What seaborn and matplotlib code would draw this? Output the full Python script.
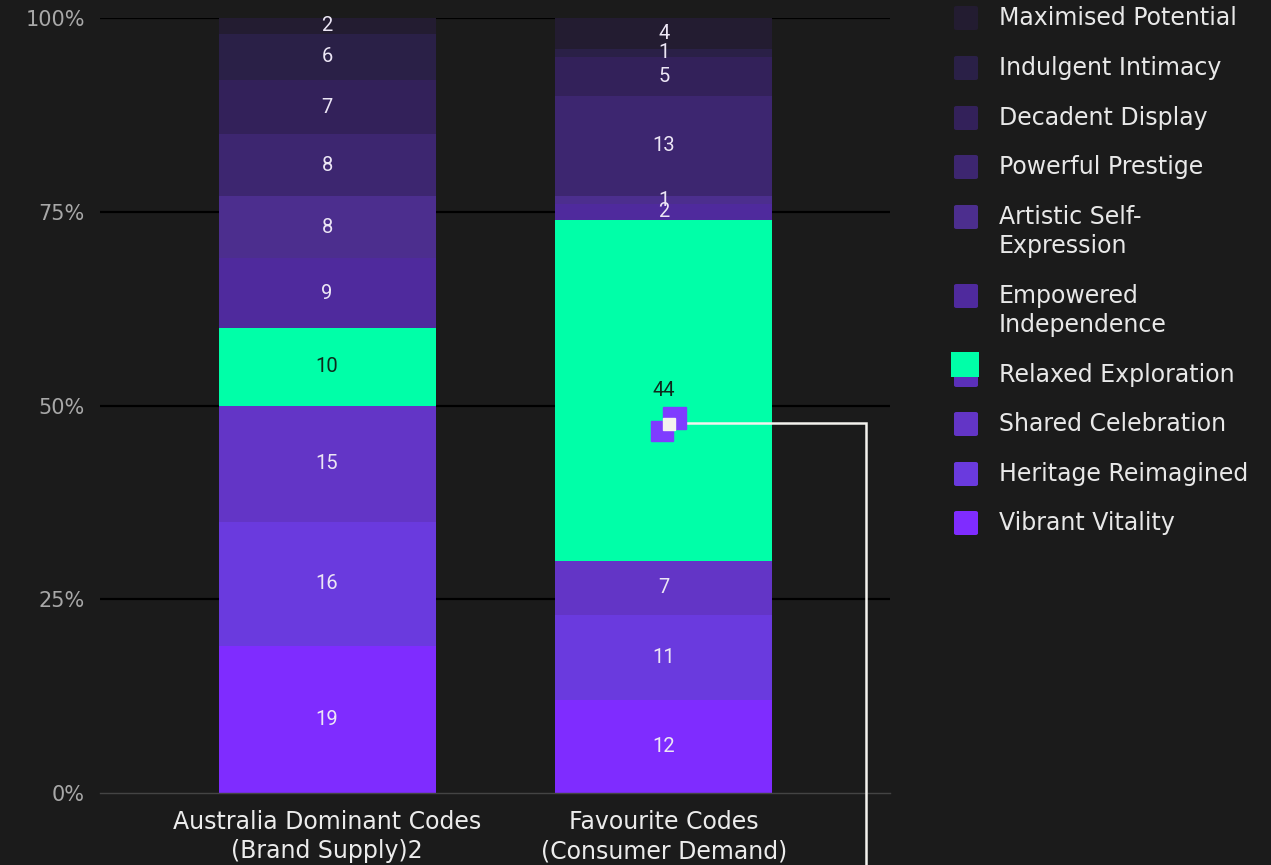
import matplotlib
matplotlib.use("Agg")
import matplotlib.pyplot as plt
import seaborn as sns
import numpy as np
import pandas as pd
from matplotlib.patches import Rectangle, FancyBboxPatch

# ---------------- data ----------------
categories = ["Australia Dominant Codes\n(Brand Supply)2", "Favourite Codes\n(Consumer Demand)"]
# stacking order: bottom -> top
series_names = [
    "Vibrant Vitality",
    "Heritage Reimagined",
    "Shared Celebration",
    "Relaxed Exploration",
    "Empowered Independence",
    "Artistic Self-Expression",
    "Powerful Prestige",
    "Decadent Display",
    "Indulgent Intimacy",
    "Maximised Potential",
]
supply_values = [19, 16, 15, 10, 9, 8, 8, 7, 6, 2]
demand_values = [12, 11, 7, 44, 2, 1, 13, 5, 1, 4]
series_colors = [
    "#7f2cff", "#6a3ade", "#6335c6", "#00ffa8", "#4f2a9d",
    "#4c2e8e", "#3d2670", "#33215a", "#2a2047", "#231c31",
]
legend_labels = [
    "Vibrant Vitality", "Heritage Reimagined", "Shared Celebration",
    "Relaxed Exploration", "Empowered\nIndependence", "Artistic Self-\nExpression",
    "Powerful Prestige", "Decadent Display", "Indulgent Intimacy", "Maximised Potential",
]
y_ticks = [0, 25, 50, 75, 100]
y_ticklabels = ["0%", "25%", "50%", "75%", "100%"]

# ---------------- figure ----------------
W, H = 1271, 865
BG = "#1b1b1b"
sns.set_theme(style="dark")
plt.rcParams["font.family"] = ["DejaVu Sans"]

fig = plt.figure(figsize=(W / 100, H / 100), dpi=100, facecolor=BG)
ax = fig.add_axes([100 / W, 1 - 793 / H, 790 / W, 775 / H])
ax.set_facecolor(BG)
ax.set_axisbelow(True)

df = pd.DataFrame({
    "category": np.repeat(categories, len(series_names)),
    "series": series_names * len(categories),
    "value": supply_values + demand_values,
})

bottoms = np.zeros(len(categories))
for name, color in zip(series_names, series_colors):
    sub = df[df["series"] == name]
    vals = sub["value"].to_numpy(dtype=float)
    sns.barplot(x=sub["category"], y=vals, bottom=bottoms, color=color,
                width=0.644, ax=ax, order=categories, errorbar=None,
                saturation=1, linewidth=0)
    for i, (v, b) in enumerate(zip(vals, bottoms)):
        txtcol = "#0e2a1c" if name == "Relaxed Exploration" else "#ece6f5"
        ax.text(i, b + v / 2, f"{int(v)}", ha="center", va="center",
                fontsize=14.5, color=txtcol, family=["Roboto", "DejaVu Sans"])
    bottoms = bottoms + vals

ax.set_xlim(-0.674, 1.671)
ax.set_ylim(0, 100)
ax.set_yticks(y_ticks)
ax.set_yticklabels(y_ticklabels)
ax.set_xlabel("")
ax.set_ylabel("")
ax.tick_params(axis="y", colors="#a8a8a8", labelsize=15, length=0, pad=11)
ax.tick_params(axis="x", colors="#ececec", labelsize=17, length=0, pad=12)
for lab in ax.get_xticklabels():
    lab.set_multialignment("center")
    lab.set_linespacing(1.3)

ax.grid(False)
for yv in y_ticks[1:]:
    ax.axhline(yv, color="#000000", lw=1.6, zorder=0.5)
for s in ["top", "right", "left"]:
    ax.spines[s].set_visible(False)
ax.spines["bottom"].set_color("#444444")
ax.spines["bottom"].set_linewidth(1.0)

# tooltip-like marker and connector line
ax.add_patch(Rectangle((0.963, 45.4), 0.063, 2.6, color="#7f3cff", zorder=5, clip_on=False))
ax.add_patch(Rectangle((0.996, 47.0), 0.068, 2.8, color="#7f3cff", zorder=5, clip_on=False))
ax.add_patch(Rectangle((0.996, 46.8), 0.036, 1.55, color="#f4f2ee", zorder=6, clip_on=False))
ax.plot([1.064, 1.60, 1.60], [47.7, 47.7, -12], color="#f4f2ee", lw=1.8,
        zorder=4, clip_on=False, solid_joinstyle="miter")

# ---------------- legend (manual) ----------------
def fx(px):
    return px / W

def fy(py):
    return 1 - py / H

legend_tops = [511, 462, 412, 363, 284, 205, 155, 106, 56, 6]  # swatch top pixel per series
for name, lab, col, top in zip(series_names, legend_labels, series_colors, legend_tops):
    swcol = "#5b30b9" if name == "Relaxed Exploration" else col
    fig.patches.append(FancyBboxPatch((fx(954), fy(top + 24)), fx(24), 24 / H,
                                      boxstyle="round,pad=0,rounding_size=0.002",
                                      transform=fig.transFigure, facecolor=swcol,
                                      edgecolor="none"))
    if name == "Relaxed Exploration":
        fig.patches.append(Rectangle((fx(951), fy(377)), fx(28), 25 / H,
                                     transform=fig.transFigure, facecolor=col,
                                     edgecolor="none"))
    for k, line in enumerate(lab.split("\n")):
        fig.text(fx(999), fy(top + 12 + 29 * k), line, ha="left", va="center",
                 fontsize=17, color="#e8e8e8")

fig.savefig("out.png", dpi=100, facecolor=BG)
